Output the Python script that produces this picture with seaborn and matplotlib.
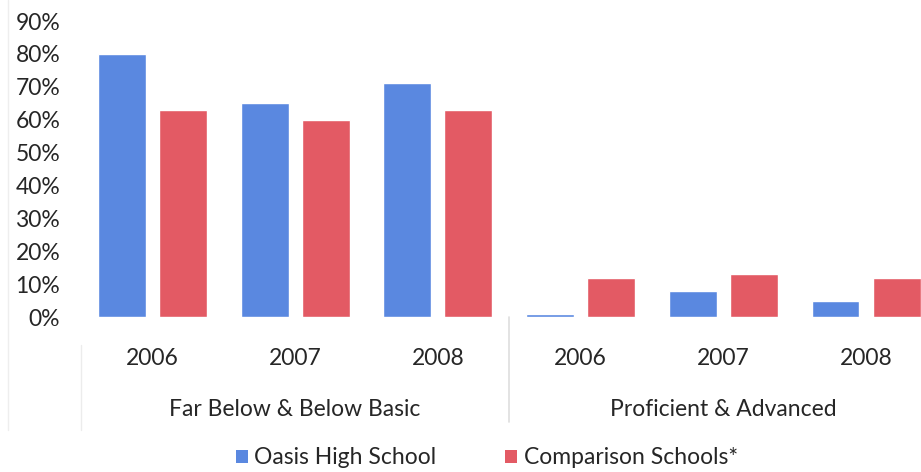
import matplotlib
matplotlib.use("Agg")
import matplotlib.pyplot as plt
from matplotlib.patches import Patch
from matplotlib.lines import Line2D
from matplotlib.transforms import blended_transform_factory
import pandas as pd
import seaborn as sns

# Data (percent of students)
levels = ["Far Below & Below Basic", "Proficient & Advanced"]
years = ["2006", "2007", "2008"]
schools = ["Oasis High School", "Comparison Schools*"]
oasis = [80, 65, 71, 1, 8, 5]
comparison = [63, 60, 63, 12, 13, 12]
y_ticks = [0, 10, 20, 30, 40, 50, 60, 70, 80, 90]

colors = ["#5A88E0", "#E35A64"]
text_color = "#262626"

slots = [f"{lvl} {yr}" for lvl in levels for yr in years]
df = pd.DataFrame({
    "slot": slots * 2,
    "school": [schools[0]] * len(slots) + [schools[1]] * len(slots),
    "value": oasis + comparison,
})

sns.set_style("white")
plt.rcParams["font.family"] = ["Lato", "DejaVu Sans"]
plt.rcParams["text.color"] = text_color

fig = plt.figure(figsize=(9.21, 4.72), dpi=100)
ax = fig.add_axes([81 / 921, 1 - 317 / 472, 840 / 921, 296 / 472])

sns.barplot(data=df, x="slot", y="value", hue="school", order=slots,
            hue_order=schools, palette=colors, width=0.856, gap=0.215,
            saturation=1, legend=False, ax=ax)

ax.set_xlim(-0.5, 5.385)
ax.set_ylim(0, 90)
ax.set_yticks(y_ticks)
ax.set_yticklabels([f"{v}%" for v in y_ticks])
ax.set_xticks(range(len(slots)))
ax.set_xticklabels(years * len(levels))
ax.set_xlabel("")
ax.set_ylabel("")
ax.tick_params(axis="y", length=0, pad=15, labelsize=16.5, labelcolor=text_color)
ax.tick_params(axis="x", length=0, pad=22, labelsize=16.5, labelcolor=text_color)
for side in ["top", "right", "left", "bottom"]:
    ax.spines[side].set_visible(False)
ax.grid(False)

# Group labels and separators of the two-level category axis
trans = blended_transform_factory(ax.transData, ax.transAxes)
ax_h = 296.0
for i, lvl in enumerate(levels):
    ax.text(i * 3 + 1, -(410 - 317) / ax_h, lvl, transform=trans,
            ha="center", va="center", fontsize=16.5, color=text_color)
ax.plot([2.5, 2.5], [0, -(422 - 317) / ax_h], transform=trans,
        color="#dedede", lw=1.2, clip_on=False)
ax.plot([-0.5, -0.5], [-(345 - 317) / ax_h, -(430 - 317) / ax_h],
        transform=trans, color="#ececec", lw=1.0, clip_on=False)

# Faint outer frame line on the left
fig.add_artist(Line2D([8 / 921, 8 / 921], [1 - 430 / 472, 1.0],
                      transform=fig.transFigure, color="#eeeeee", lw=1.0))

handles = [Patch(facecolor=c, edgecolor="none") for c in colors]
fig.legend(handles, schools, loc="center", bbox_to_anchor=(487 / 921, 14 / 472),
           ncol=2, frameon=False, fontsize=16.5, handlelength=0.5,
           handleheight=0.5, handletextpad=0.3, columnspacing=3.0,
           borderaxespad=0)

fig.savefig("out.png", dpi=100)
